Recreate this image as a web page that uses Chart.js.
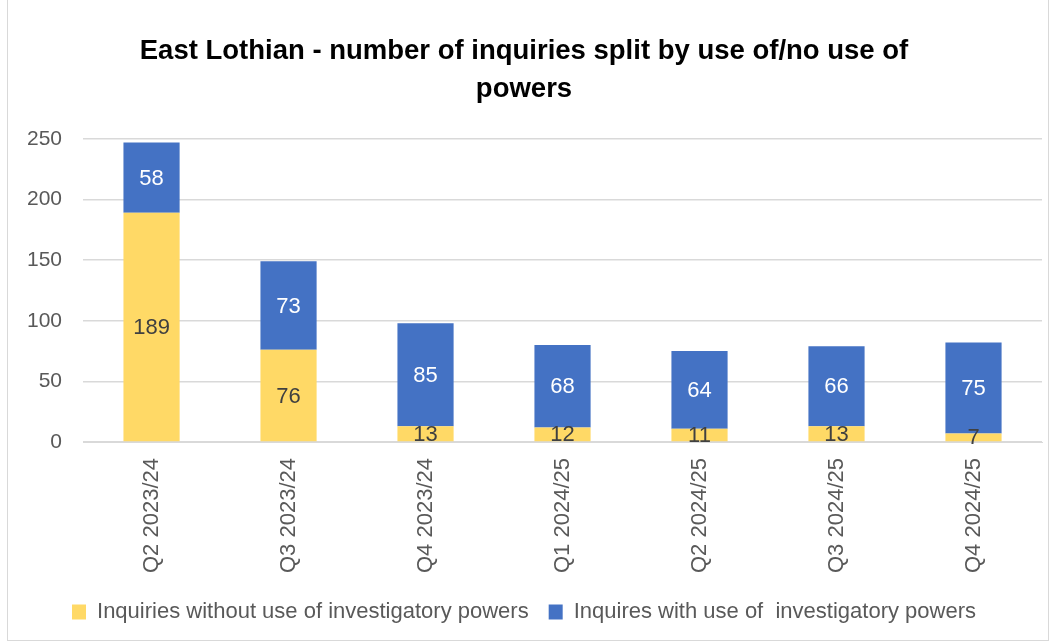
<!DOCTYPE html>
<html lang="en">
<head>
<meta charset="UTF-8">
<title>East Lothian inquiries</title>
<script src="https://cdn.jsdelivr.net/npm/chart.js@4.4.1/dist/chart.umd.min.js"></script>
<style>
    html, body { margin: 0; padding: 0; background: #fff; }
    .frame {
        position: absolute;
        left: 7px; top: -2px;
        width: 1042px; height: 643px;
        border: 1px solid #d9d9d9;
        box-sizing: border-box;
    }
    .wrap { position: absolute; left: 0; top: 0; width: 1057px; height: 644px; }
</style>
</head>
<body>
<div class="frame"></div>
<div class="wrap"><canvas id="myChart"></canvas></div>

<script>
    const quarters = ['Q2 2023/24', 'Q3 2023/24', 'Q4 2023/24', 'Q1 2024/25', 'Q2 2024/25', 'Q3 2024/25', 'Q4 2024/25'];
    const withoutPowers = [189, 76, 13, 12, 11, 13, 7];
    const withPowers = [58, 73, 85, 68, 64, 66, 75];
    const yTicks = [0, 50, 100, 150, 200, 250];

    const fontFamily = "'Liberation Sans', Arial, sans-serif";

    // simple centered value labels inside each bar segment
    const segmentLabels = {
        id: 'segmentLabels',
        afterDatasetsDraw(chart) {
            const ctx = chart.ctx;
            chart.data.datasets.forEach((ds, i) => {
                const meta = chart.getDatasetMeta(i);
                meta.data.forEach((bar, j) => {
                    ctx.save();
                    ctx.font = '22px ' + fontFamily;
                    ctx.fillStyle = ds.labelColor;
                    ctx.textAlign = 'center';
                    ctx.textBaseline = 'middle';
                    ctx.fillText(ds.data[j], bar.x, (bar.y + bar.base) / 2 + 1);
                    ctx.restore();
                });
            });
        }
    };

    new Chart(document.getElementById('myChart'), {
        type: 'bar',
        data: {
            labels: quarters,
            datasets: [{
                label: 'Inquiries without use of investigatory powers',
                data: withoutPowers,
                backgroundColor: '#FFD966',
                labelColor: '#404040',
                barPercentage: 0.41,
                categoryPercentage: 1
            }, {
                label: 'Inquires with use of  investigatory powers',
                data: withPowers,
                backgroundColor: '#4472C4',
                labelColor: '#ffffff',
                barPercentage: 0.41,
                categoryPercentage: 1
            }]
        },
        options: {
            responsive: true,
            maintainAspectRatio: false,
            animation: false,
            layout: { padding: { left: 6, right: 15, top: 32, bottom: 11 } },
            plugins: {
                title: {
                    display: true,
                    text: ['East Lothian - number of inquiries split by use of/no use of', 'powers'],
                    color: '#000000',
                    font: { family: fontFamily, size: 27.5, weight: 'bold', lineHeight: 1.38 },
                    padding: { top: 0, bottom: 31 }
                },
                legend: {
                    position: 'bottom',
                    maxHeight: 56,
                    labels: {
                        color: '#595959',
                        font: { family: fontFamily, size: 22 },
                        boxWidth: 14,
                        boxHeight: 15,
                        padding: 20
                    }
                },
                tooltip: { enabled: false }
            },
            scales: {
                x: {
                    stacked: true,
                    grid: { display: false },
                    border: { color: '#d9d9d9' },
                    ticks: {
                        color: '#595959',
                        font: { family: fontFamily, size: 22 },
                        minRotation: 90,
                        maxRotation: 90,
                        padding: 8
                    }
                },
                y: {
                    stacked: true,
                    min: 0,
                    max: 250,
                    afterBuildTicks: axis => { axis.ticks = yTicks.map(v => ({ value: v })); },
                    grid: { color: '#d9d9d9', drawTicks: false, lineWidth: 1.5 },
                    border: { display: false },
                    ticks: {
                        color: '#595959',
                        font: { family: fontFamily, size: 21 },
                        padding: 21
                    }
                }
            }
        },
        plugins: [segmentLabels]
    });
</script>
</body>
</html>
